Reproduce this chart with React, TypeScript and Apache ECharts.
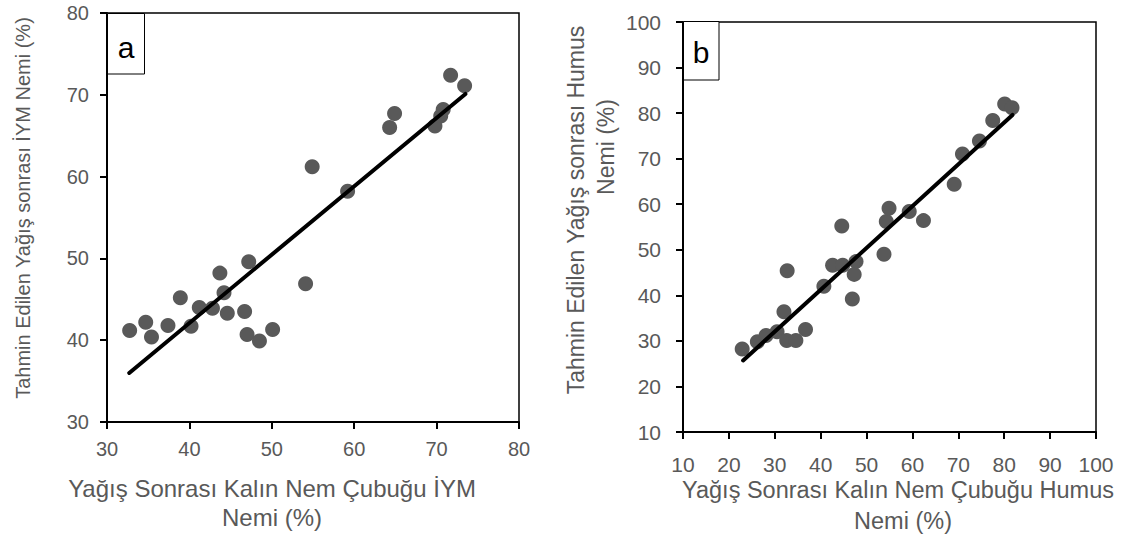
import React, { useEffect, useRef } from "react";
import * as echarts from "echarts";

// Panel a (İYM)
const aObserved = [32.75, 34.7, 35.4, 37.4, 38.9, 40.2, 41.2, 42.8, 43.7, 44.2, 44.6, 46.7, 47.0, 47.2, 48.5, 50.1, 54.1, 54.9, 59.2, 64.3, 64.9, 69.8, 70.5, 70.8, 71.7, 73.4];
const aPredicted = [41.2, 42.2, 40.4, 41.8, 45.2, 41.7, 44.0, 43.9, 48.2, 45.8, 43.3, 43.5, 40.7, 49.6, 39.9, 41.3, 46.9, 61.2, 58.2, 66.0, 67.7, 66.2, 67.4, 68.2, 72.4, 71.1];
const aFitX = [32.7, 73.5];
const aFitY = [36.0, 70.1];

// Panel b (Humus)
const bObserved = [22.9, 26.2, 28.1, 30.5, 32.0, 32.7, 32.6, 34.6, 36.7, 40.7, 42.6, 44.6, 44.8, 47.7, 47.3, 46.9, 53.8, 54.3, 54.9, 59.3, 62.4, 69.1, 70.9, 74.6, 77.5, 80.1, 81.7];
const bPredicted = [28.2, 29.8, 31.2, 32.0, 36.4, 45.4, 30.1, 30.1, 32.5, 42.0, 46.6, 55.2, 46.6, 47.4, 44.6, 39.2, 49.0, 56.2, 59.1, 58.4, 56.4, 64.4, 71.0, 73.9, 78.4, 82.0, 81.2];
const bFitX = [23.1, 81.8];
const bFitY = [25.7, 79.6];

const aTickMin = 30, aTickMax = 80, bTickMin = 10, bTickMax = 100, tickStep = 10;

const labelsA = {
  y: "Tahmin Edilen Yağış sonrası İYM Nemi (%)",
  x1: "Yağış Sonrası Kalın Nem Çubuğu İYM",
  x2: "Nemi (%)",
  tag: "a",
};
const labelsB = {
  y1: "Tahmin Edilen Yağış sonrası Humus",
  y2: "Nemi (%)",
  x1: "Yağış Sonrası Kalın Nem Çubuğu Humus",
  x2: "Nemi (%)",
  tag: "b",
};

const FONT = "'Liberation Sans', Arial, sans-serif";
const GRAY = "#595959";

export default function App() {
  const ref = useRef<HTMLDivElement>(null);
  useEffect(() => {
    if (!ref.current) return;
    const chart = echarts.init(ref.current, undefined, { renderer: "svg" });
    const axisCommon = (min: number, max: number, fs: number, margin: number) => ({
      type: "value" as const,
      min,
      max,
      interval: tickStep,
      axisLine: { show: true, onZero: false, lineStyle: { color: "#000", width: 2 } },
      axisTick: { show: true, inside: false, length: 7, lineStyle: { color: "#000", width: 2 } },
      axisLabel: { color: GRAY, fontSize: fs, fontFamily: FONT, margin },
      splitLine: { show: false },
    });
    const txt = (x: number, y: number, text: string, fs: number, rotation = 0) => ({
      type: "text",
      x,
      y,
      rotation,
      style: {
        text,
        fill: GRAY,
        font: `${fs}px ${FONT}`,
        textAlign: "center",
        textVerticalAlign: "middle",
      },
    });
    chart.setOption({
      animation: false,
      backgroundColor: "#fff",
      grid: [
        { left: 107, top: 13, width: 412, height: 409, show: true, borderColor: "#000", borderWidth: 1.5, backgroundColor: "transparent" },
        { left: 683, top: 22, width: 413, height: 410, show: true, borderColor: "#000", borderWidth: 1.5, backgroundColor: "transparent" },
      ],
      xAxis: [
        { ...axisCommon(aTickMin, aTickMax, 20, 17), gridIndex: 0 },
        { ...axisCommon(bTickMin, bTickMax, 21, 22), gridIndex: 1 },
      ],
      yAxis: [
        { ...axisCommon(aTickMin, aTickMax, 20, 18), gridIndex: 0 },
        { ...axisCommon(bTickMin, bTickMax, 21, 22), gridIndex: 1 },
      ],
      series: [
        {
          type: "scatter",
          xAxisIndex: 0,
          yAxisIndex: 0,
          symbolSize: 15,
          itemStyle: { color: GRAY, opacity: 1 },
          data: aObserved.map((v, i) => [v, aPredicted[i]]),
        },
        {
          type: "line",
          xAxisIndex: 0,
          yAxisIndex: 0,
          showSymbol: false,
          symbol: "none",
          lineStyle: { color: "#000", width: 4, cap: "round" },
          data: aFitX.map((v, i) => [v, aFitY[i]]),
        },
        {
          type: "scatter",
          xAxisIndex: 1,
          yAxisIndex: 1,
          symbolSize: 15,
          itemStyle: { color: GRAY, opacity: 1 },
          data: bObserved.map((v, i) => [v, bPredicted[i]]),
        },
        {
          type: "line",
          xAxisIndex: 1,
          yAxisIndex: 1,
          showSymbol: false,
          symbol: "none",
          lineStyle: { color: "#000", width: 4, cap: "round" },
          data: bFitX.map((v, i) => [v, bFitY[i]]),
        },
      ],
      graphic: [
        txt(23, 208, labelsA.y, 20, Math.PI / 2),
        txt(272, 488, labelsA.x1, 24),
        txt(272, 517, labelsA.x2, 24),
        txt(576, 210, labelsB.y1, 23, Math.PI / 2),
        txt(606, 147, labelsB.y2, 23, Math.PI / 2),
        txt(898, 490, labelsB.x1, 23.5),
        txt(903, 521, labelsB.x2, 23.5),
        {
          type: "rect",
          shape: { x: 107.5, y: 13.5, width: 37, height: 60.5 },
          style: { fill: "#fff", stroke: "#000", lineWidth: 1 },
          z: 10,
        },
        {
          type: "text",
          x: 126,
          y: 47,
          z: 11,
          style: { text: labelsA.tag, fill: "#000", font: `30px ${FONT}`, textAlign: "center", textVerticalAlign: "middle" },
        },
        {
          type: "rect",
          shape: { x: 683.5, y: 21.5, width: 35.5, height: 58.5 },
          style: { fill: "#fff", stroke: "#000", lineWidth: 1 },
          z: 10,
        },
        {
          type: "text",
          x: 701,
          y: 52,
          z: 11,
          style: { text: labelsB.tag, fill: "#000", font: `30px ${FONT}`, textAlign: "center", textVerticalAlign: "middle" },
        },
      ],
    });
    return () => chart.dispose();
  }, []);
  return (
    <div
      ref={ref}
      style={{ position: "fixed", left: 0, top: 0, width: 1131, height: 536 }}
    />
  );
}
